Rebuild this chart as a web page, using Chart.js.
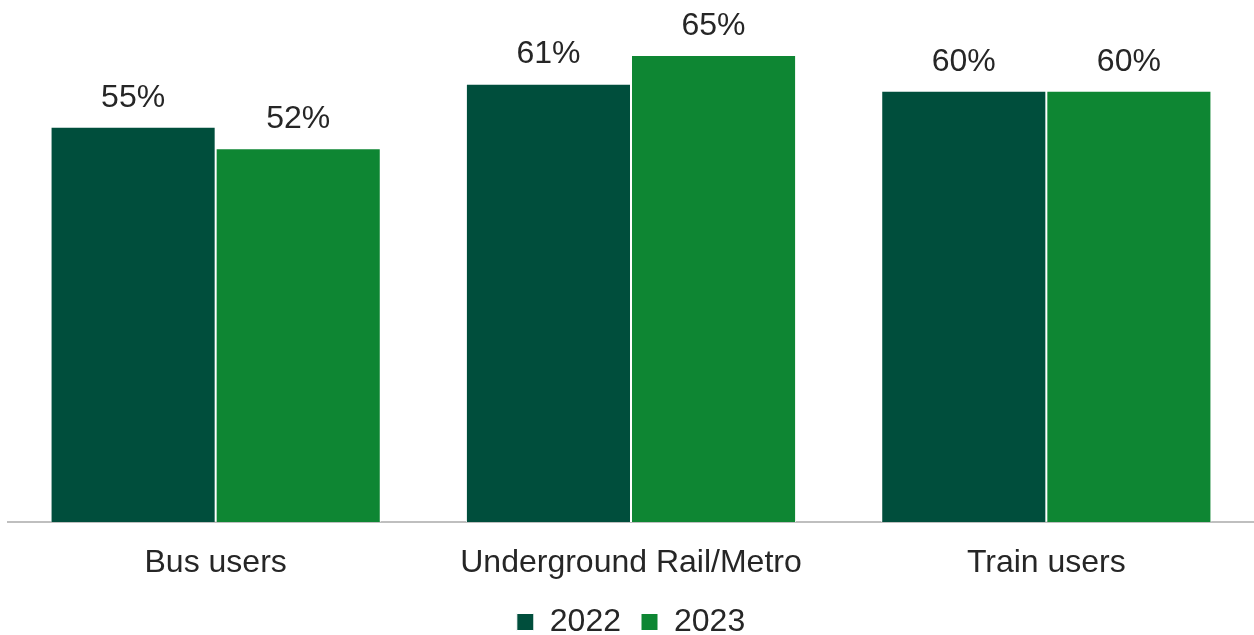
<!DOCTYPE html>
<html>
<head>
<meta charset="utf-8">
<script src="https://cdn.jsdelivr.net/npm/chart.js@4.4.1/dist/chart.umd.min.js"></script>
<style>
  html, body { margin: 0; padding: 0; background: #ffffff; }
  #wrap { width: 1254px; height: 635px; position: relative; }
</style>
</head>
<body>
<div id="wrap"><canvas id="chart" width="1254" height="635"></canvas></div>
<script>
// Share of users, by mode of transport and survey year
const categories = ['Bus users', 'Underground Rail/Metro', 'Train users'];
const seriesNames = ['2022', '2023'];
const values2022 = [55, 61, 60];
const values2023 = [52, 65, 60];
const seriesColors = ['#004E3C', '#0E8633'];

const TEXT_COLOR = '#262626';
const FONT_FAMILY = '"Liberation Sans", Arial, sans-serif';
const FONT_SIZE = 32;

// Writes each bar's value above it
const valueLabels = {
  id: 'valueLabels',
  afterDatasetsDraw(chart) {
    const ctx = chart.ctx;
    ctx.save();
    ctx.font = FONT_SIZE + 'px ' + FONT_FAMILY;
    ctx.fillStyle = TEXT_COLOR;
    ctx.textAlign = 'center';
    ctx.textBaseline = 'middle';
    chart.data.datasets.forEach((ds, i) => {
      chart.getDatasetMeta(i).data.forEach((bar, j) => {
        ctx.fillText(ds.data[j] + '%', bar.x, bar.y - 29);
      });
    });
    ctx.restore();
  }
};

new Chart(document.getElementById('chart'), {
  type: 'bar',
  data: {
    labels: categories,
    datasets: [
      {
        label: seriesNames[0],
        data: values2022,
        backgroundColor: seriesColors[0],
        borderColor: '#ffffff',
        borderWidth: 1,
        categoryPercentage: 0.795,
        barPercentage: 1.0
      },
      {
        label: seriesNames[1],
        data: values2023,
        backgroundColor: seriesColors[1],
        borderColor: '#ffffff',
        borderWidth: 1,
        categoryPercentage: 0.795,
        barPercentage: 1.0
      }
    ]
  },
  options: {
    responsive: false,
    animation: false,
    devicePixelRatio: 1,
    layout: { padding: { top: 19, left: 8, right: 0, bottom: -13 } },
    scales: {
      x: {
        grid: { display: false, drawTicks: false },
        border: { display: true, color: '#BFBFBF', width: 2 },
        ticks: {
          color: TEXT_COLOR,
          font: { family: FONT_FAMILY, size: FONT_SIZE },
          padding: 22
        },
        afterFit(scale) { scale.height = 64; }
      },
      y: {
        display: false,
        min: 0,
        max: 70
      }
    },
    plugins: {
      legend: {
        position: 'bottom',
        labels: {
          color: TEXT_COLOR,
          font: { family: FONT_FAMILY, size: FONT_SIZE },
          boxWidth: 17,
          boxHeight: 17,
          padding: 20
        }
      },
      tooltip: { enabled: false }
    }
  },
  plugins: [valueLabels]
});
</script>
</body>
</html>
